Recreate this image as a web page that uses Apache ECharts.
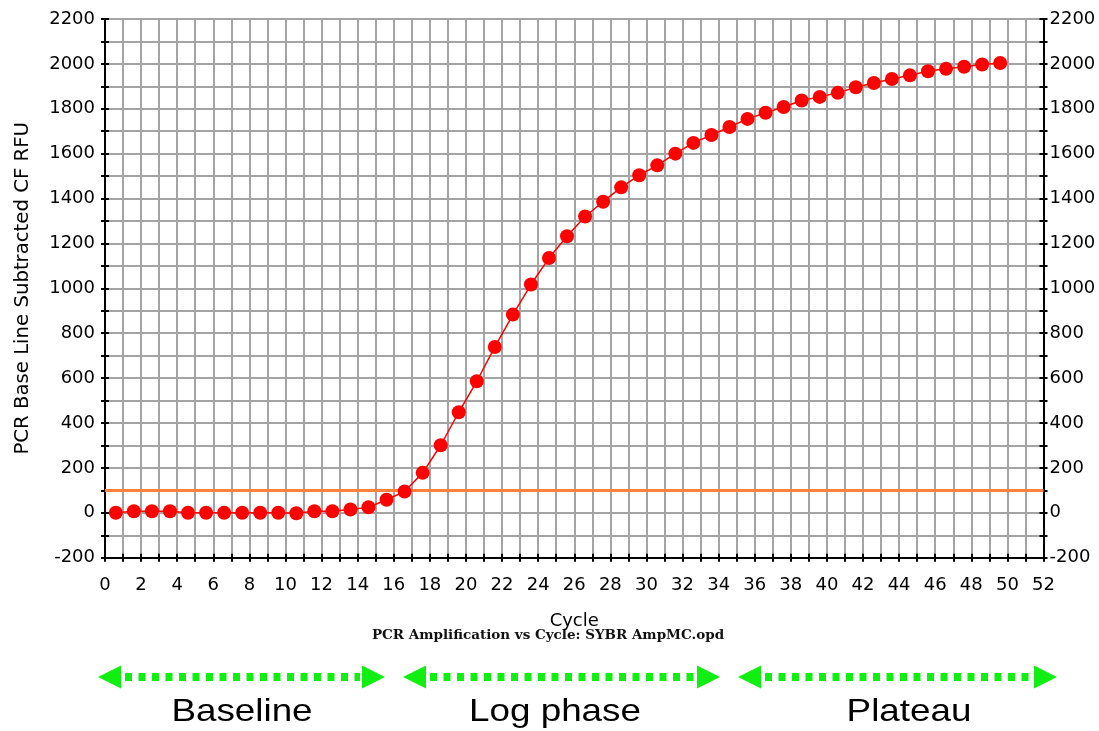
<!DOCTYPE html>
<html>
<head>
<meta charset="utf-8">
<script src="https://cdn.jsdelivr.net/npm/echarts@6/dist/echarts.min.js"></script>
<style>
html,body{margin:0;padding:0;background:#fff;}
#chart{width:1099px;height:731px;}
</style>
</head>
<body>
<div id="chart"></div>
<script>
// Data
var cyclePositions = [0.6,1.6,2.6,3.6,4.6,5.6,6.6,7.6,8.6,9.6,10.6,11.6,12.6,13.6,14.6,15.6,16.6,17.6,18.6,19.6,20.6,21.6,22.6,23.6,24.6,25.6,26.6,27.6,28.6,29.6,30.6,31.6,32.6,33.6,34.6,35.6,36.6,37.6,38.6,39.6,40.6,41.6,42.6,43.6,44.6,45.6,46.6,47.6,48.6,49.6];
var rfuValues = [0,7,7,7,0,0,0,0,0,0,-2,7,7,15,25,58,95,178,301,448,586,739,883,1017,1135,1232,1320,1386,1450,1504,1548,1600,1648,1683,1719,1755,1782,1808,1837,1853,1871,1896,1915,1933,1949,1967,1978,1987,1997,2004];
var thresholdValue = 100;
var xRange = [0, 52];
var yRange = [-200, 2200];
var phaseLabels = ['Baseline', 'Log phase', 'Plateau'];
var yAxisTitle = 'PCR Base Line Subtracted CF RFU';
var xAxisTitle = 'Cycle';
var subTitle = 'PCR Amplification vs Cycle: SYBR AmpMC.opd';

var chart = echarts.init(document.getElementById('chart'), null, {renderer: 'canvas'});

var seriesData = cyclePositions.map(function (x, i) { return [x, rfuValues[i]]; });

var FONT = 'DejaVu Sans';
var gridColor = '#a4a4a4';
function plain(v) { return String(v); }

function xAxisBase(extra) {
  var a = {
    type: 'value', position: 'bottom', min: xRange[0], max: xRange[1], interval: 2,
    axisLine: {show: true, onZero: false, lineStyle: {color: '#000', width: 2}},
    axisTick: {show: true, inside: false, length: 4, lineStyle: {color: '#000', width: 2}},
    minorTick: {show: true, splitNumber: 2, length: 4, lineStyle: {color: '#000', width: 2}},
    splitLine: {show: false},
    minorSplitLine: {show: false},
    axisLabel: {show: false}
  };
  return Object.assign(a, extra);
}
function yAxisBase(extra) {
  var a = {
    type: 'value', min: yRange[0], max: yRange[1], interval: 200,
    axisLine: {show: true, onZero: false, lineStyle: {color: '#000', width: 2}},
    axisTick: {show: true, inside: false, length: 4, lineStyle: {color: '#000', width: 2}},
    minorTick: {show: true, splitNumber: 2, length: 4, lineStyle: {color: '#000', width: 2}},
    splitLine: {show: false},
    minorSplitLine: {show: false},
    axisLabel: {show: false}
  };
  return Object.assign(a, extra);
}

var arrowY = 677;
var arrows = [[98, 385], [403, 720], [738, 1057]];
var labelCenters = [242, 555, 909];
var graphics = [];
var green = '#11ee11';
arrows.forEach(function (ar) {
  var l = ar[0], r = ar[1];
  graphics.push({type: 'polygon', shape: {points: [[l, arrowY], [l + 23, arrowY - 11.5], [l + 23, arrowY + 11.5]]}, style: {fill: green}});
  graphics.push({type: 'polygon', shape: {points: [[r, arrowY], [r - 23, arrowY - 11.5], [r - 23, arrowY + 11.5]]}, style: {fill: green}});
  graphics.push({type: 'line', shape: {x1: l + 27, y1: arrowY, x2: r - 25, y2: arrowY}, style: {stroke: green, lineWidth: 8, lineDash: [7, 6.5]}});
});
phaseLabels.forEach(function (t, i) {
  graphics.push({type: 'text', x: labelCenters[i], y: 712, scaleX: 1.15, style: {text: t, fill: '#000', font: '32px "Liberation Sans", Arial, sans-serif', textAlign: 'center', textVerticalAlign: 'middle'}});
});
graphics.push({type: 'text', x: 548, y: 635, style: {text: subTitle, fill: '#111', font: 'bold 13.5px "DejaVu Serif", serif', textAlign: 'center', textVerticalAlign: 'middle'}});

var option = {
  backgroundColor: '#fff',
  animation: false,
  grid: {left: 105, right: 55.5, top: 19, bottom: 173.3, containLabel: false},
  xAxis: [
    xAxisBase({
      splitLine: {show: true, lineStyle: {color: gridColor, width: 2}},
      minorSplitLine: {show: true, lineStyle: {color: gridColor, width: 2}},
      axisLabel: {show: true, margin: 19, color: '#000', fontFamily: FONT, fontSize: 18, formatter: plain},
      name: xAxisTitle, nameLocation: 'middle', nameGap: 55,
      nameTextStyle: {color: '#000', fontFamily: FONT, fontSize: 18}
    }),
    xAxisBase({axisTick: {show: true, inside: true, length: 4, lineStyle: {color: '#000', width: 2}},
               minorTick: {show: true, splitNumber: 2, length: 4, lineStyle: {color: '#000', width: 2}}})
  ],
  yAxis: [
    yAxisBase({
      position: 'left',
      splitLine: {show: true, lineStyle: {color: gridColor, width: 2}},
      minorSplitLine: {show: true, lineStyle: {color: gridColor, width: 2}},
      axisLabel: {show: true, margin: 10, color: '#000', fontFamily: FONT, fontSize: 18, formatter: plain},
      name: yAxisTitle, nameLocation: 'middle', nameGap: 72, nameRotate: 90,
      nameTextStyle: {color: '#000', fontFamily: FONT, fontSize: 19.7}
    }),
    yAxisBase({position: 'left', axisTick: {show: true, inside: true, length: 4, lineStyle: {color: '#000', width: 2}},
               minorTick: {show: true, splitNumber: 2, length: 4, lineStyle: {color: '#000', width: 2}}}),
    yAxisBase({position: 'right', axisLabel: {show: true, margin: 6, color: '#000', fontFamily: FONT, fontSize: 18, formatter: plain}}),
    yAxisBase({position: 'right', axisTick: {show: true, inside: true, length: 4, lineStyle: {color: '#000', width: 2}},
               minorTick: {show: true, splitNumber: 2, length: 4, lineStyle: {color: '#000', width: 2}}})
  ],
  series: [{
    type: 'line',
    xAxisIndex: 0, yAxisIndex: 0,
    data: seriesData,
    symbol: 'circle', symbolSize: 14,
    itemStyle: {color: '#ff0000'},
    lineStyle: {color: '#ff0000', width: 1.5},
    z: 5,
    markLine: {
      silent: true, symbol: 'none', label: {show: false},
      lineStyle: {color: '#ff8040', width: 3, type: 'solid'},
      data: [{yAxis: thresholdValue}],
      z: 4
    }
  }],
  graphic: graphics
};
chart.setOption(option);
</script>
</body>
</html>
